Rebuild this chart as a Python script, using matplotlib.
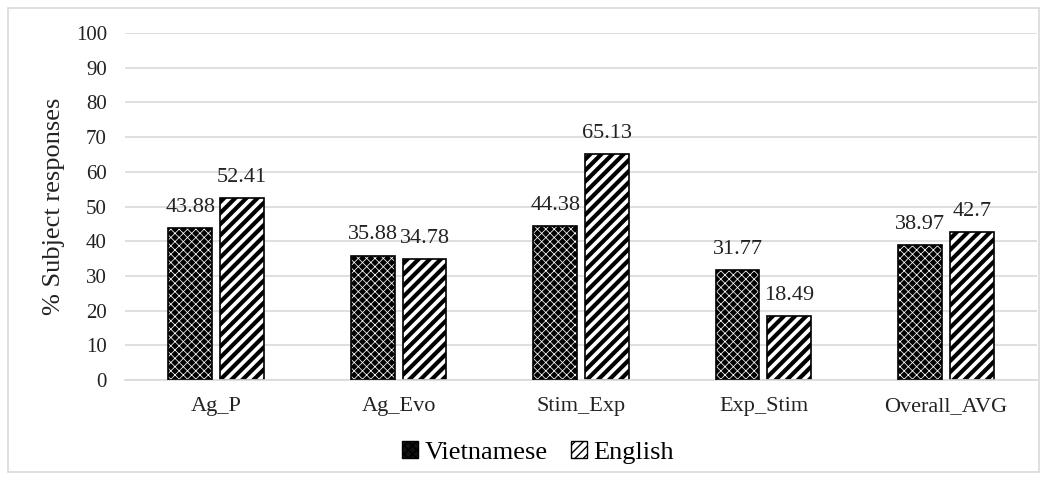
import matplotlib
matplotlib.use("Agg")
import matplotlib.pyplot as plt
import numpy as np
from matplotlib.patches import Rectangle, Patch

categories = ["Ag_P", "Ag_Evo", "Stim_Exp", "Exp_Stim", "Overall_AVG"]
vietnamese = [43.88, 35.88, 44.38, 31.77, 38.97]
english = [52.41, 34.78, 65.13, 18.49, 42.7]
viet_labels = ["43.88", "35.88", "44.38", "31.77", "38.97"]
eng_labels = ["52.41", "34.78", "65.13", "18.49", "42.7"]
yticks = [0, 10, 20, 30, 40, 50, 60, 70, 80, 90, 100]

plt.rcParams['font.family'] = ['Liberation Serif', 'DejaVu Serif']

fig = plt.figure(figsize=(10.47, 4.80), dpi=100)
ax = fig.add_axes([0.1194, 0.2083, 0.8711, 0.7229])

x = np.arange(len(categories))
w = 0.24
off = 0.142

# Vietnamese: dark with fine white cross hatch
plt.rcParams['hatch.linewidth'] = 0.55
ax.bar(x - off, vietnamese, w, color='#000000', edgecolor='white', hatch='xxxx', linewidth=0, zorder=2)
ax.bar(x - off, vietnamese, w, fill=False, edgecolor='black', linewidth=1.2, zorder=3)
# English: white with thick black diagonal lines
plt.rcParams['hatch.linewidth'] = 3.0
ax.bar(x + off, english, w, color='white', edgecolor='black', hatch='///', linewidth=1.2, zorder=2)

for xi, v, s in zip(x - off, vietnamese, viet_labels):
    ax.annotate(s, (xi, v), xytext=(0, 8), textcoords='offset points', ha='center', va='bottom', fontsize=16, color='#222222')
for xi, v, s in zip(x + off, english, eng_labels):
    ax.annotate(s, (xi, v), xytext=(0, 8), textcoords='offset points', ha='center', va='bottom', fontsize=16, color='#222222')

ax.set_xlim(-0.5, len(categories) - 0.5)
ax.set_ylim(0, 100)
ax.set_yticks(yticks)
ax.set_xticks(x)
ax.set_xticklabels(categories, fontsize=16, color='#222222')
ax.tick_params(axis='y', labelsize=15, colors='#222222', length=0, pad=13)
ax.tick_params(axis='x', length=0, pad=12)
ax.yaxis.grid(True, color='#d9d9d9', linewidth=1.2, zorder=0)
ax.set_axisbelow(True)
for sp in ['top', 'right', 'left']:
    ax.spines[sp].set_visible(False)
ax.spines['bottom'].set_color('#d9d9d9')
ax.spines['bottom'].set_linewidth(1.2)
ax.set_ylabel('% Subject responses', fontsize=19, color='#222222', labelpad=8)

plt.rcParams['hatch.linewidth'] = 1.0
h1 = Patch(facecolor='#111111', edgecolor='black', hatch='xxxx')
h2 = Patch(facecolor='white', edgecolor='black', hatch='////')
leg = fig.legend([h1, h2], ['Vietnamese', 'English'], loc='center', bbox_to_anchor=(0.514, 0.058),
                 ncol=2, frameon=False, fontsize=19, handlelength=0.6, handleheight=0.6,
                 handletextpad=0.25, columnspacing=0.9)

fig.patches.append(Rectangle((0.008, 0.017), 0.984, 0.966, transform=fig.transFigure,
                             fill=False, edgecolor='#d9d9d9', linewidth=1.2))

fig.savefig('out.png', dpi=100)
